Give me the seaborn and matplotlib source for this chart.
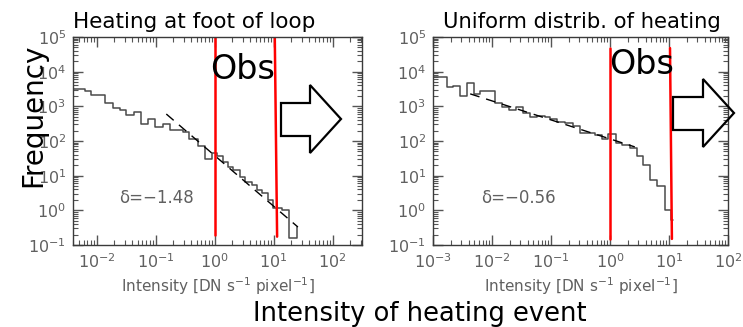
import numpy as np
import pandas as pd
import matplotlib
matplotlib.use("Agg")
import matplotlib.pyplot as plt
from matplotlib.ticker import LogLocator, LogFormatterSciNotation, NullFormatter
from matplotlib.patches import Polygon
import seaborn as sns

# ---------------- data ----------------
# Left panel: heating at foot of loop
left_edges = [0.00398, 0.00635, 0.00803, 0.01387, 0.01897, 0.02494, 0.03148, 0.04305,
              0.05662, 0.0743, 0.09772, 0.1334, 0.1754, 0.2911, 0.3681, 0.5234,
              0.6877, 0.9036, 1.099, 1.388, 1.687, 2.051, 2.696, 3.275,
              4.306, 5.236, 6.357, 8.035, 9.772, 13.87, 18.23, 24.93]
left_counts = [3160, 2750, 2140, 1260, 890, 795, 560, 690,
               310, 435, 255, 310, 210, 180, 115, 72,
               30, 46, 37, 25, 18, 15, 9.3, 6.6,
               5.4, 3.9, 3.2, 2.0, 1.17, 1.02, 0.16]
left_tail = 0.33
left_fit_x = [0.152, 25.9]
left_fit_y = [600, 0.33]
left_delta = "δ=−1.48"
left_obs_x = [[1.0, 1.0], [10.5, 11.5]]
left_obs_y = [[1e5, 0.197], [1e5, 0.174]]

# Right panel: uniform distribution of heating
right_edges = [0.001, 0.001726, 0.002183, 0.00287, 0.00377, 0.004955, 0.006266, 0.01125,
               0.01477, 0.01941, 0.02551, 0.0335, 0.04403, 0.05787, 0.07912, 0.09616,
               0.1264, 0.1726, 0.236, 0.3101, 0.4075, 0.5571, 0.7314, 0.9246,
               1.264, 1.597, 2.183, 2.869, 3.626, 4.766, 6.264, 8.557, 10.81, 11.69]
right_counts = [7030, 3620, 3870, 1995, 4720, 2275, 2780, 1255,
                960, 787, 960, 646, 495, 529, 495, 434,
                355, 332, 272, 171, 171, 150, 115, 160,
                88, 77, 63, 37, 20.5, 7.6, 5.1, 1.03, 0.53]
right_fit_x = [0.00427, 2.63]
right_fit_y = [2290, 67.6]
right_delta = "δ=−0.56"
right_obs_x = [[1.0, 1.0], [10.4, 11.2]]
right_obs_y = [[47900, 0.15], [47900, 0.15]]

titles = ["Heating at foot of loop", "Uniform distrib. of heating"]
x_label_small = "Intensity [DN s$^{-1}$ pixel$^{-1}$]"
y_label_big = "Frequency"
x_label_big = "Intensity of heating event"
obs_label = "Obs"

# ---------------- style ----------------
sns.set_theme(style="ticks")
plt.rcParams["font.family"] = ["DejaVu Sans"]
plt.rcParams["mathtext.default"] = "regular"

W, H = 743, 327
fig = plt.figure(figsize=(W / 100, H / 100), dpi=100)

def px_rect(x0, y0, x1, y1):
    return [x0 / W, 1 - y1 / H, (x1 - x0) / W, (y1 - y0) / H]

ax_l = fig.add_axes(px_rect(73, 37, 362, 245))
ax_r = fig.add_axes(px_rect(433, 37, 728, 245))

spine_c = "#3a3a3a"
tick_c = "#555555"
lab_c = "#606060"
hist_c = "#4a4a4a"

def draw_panel(ax, edges, counts, tail, fit_x, fit_y, obs_x, obs_y, xlim, delta):
    xs = list(edges)
    ys = list(counts) + [counts[-1]]
    if tail is not None:
        xs = xs + [edges[-1]]
        ys = ys + [tail]
    df = pd.DataFrame({"x": xs, "y": ys})
    sns.lineplot(data=df, x="x", y="y", ax=ax, sort=False, estimator=None,
                 drawstyle="steps-post", color=hist_c, lw=1.1)
    dff = pd.DataFrame({"x": fit_x, "y": fit_y})
    sns.lineplot(data=dff, x="x", y="y", ax=ax, sort=False, estimator=None,
                 color="black", lw=1.0, linestyle=(0, (7, 5)))
    for ox, oy in zip(obs_x, obs_y):
        dfo = pd.DataFrame({"x": ox, "y": oy})
        sns.lineplot(data=dfo, x="x", y="y", ax=ax, sort=False, estimator=None,
                     color="#ff0000", lw=1.8)
    ax.set_xscale("log")
    ax.set_yscale("log")
    ax.set_xlim(*xlim)
    ax.set_ylim(0.1, 1e5)
    ax.set_xlabel(x_label_small, color=lab_c, fontsize=11, labelpad=3)
    ax.set_ylabel("")
    for s in ax.spines.values():
        s.set_visible(True)
        s.set_color(spine_c)
        s.set_linewidth(1.0)
    ax.xaxis.set_major_locator(LogLocator(base=10, numticks=20))
    ax.yaxis.set_major_locator(LogLocator(base=10, numticks=20))
    ax.xaxis.set_minor_locator(LogLocator(base=10, subs=np.arange(2, 10), numticks=100))
    ax.yaxis.set_minor_locator(LogLocator(base=10, subs=np.arange(2, 10), numticks=100))
    ax.xaxis.set_major_formatter(LogFormatterSciNotation())
    ax.yaxis.set_major_formatter(LogFormatterSciNotation())
    ax.xaxis.set_minor_formatter(NullFormatter())
    ax.yaxis.set_minor_formatter(NullFormatter())
    ax.tick_params(which="both", direction="in", top=True, right=True,
                   color=tick_c, labelcolor=lab_c, labelsize=11.5)
    ax.tick_params(which="major", length=7, width=1.0, pad=5)
    ax.tick_params(which="minor", length=3.5, width=0.8)
    ax.set_facecolor("white")
    ax.text(0.29, 0.225, delta, transform=ax.transAxes, ha="center", va="center",
            color=lab_c, fontsize=12)

draw_panel(ax_l, left_edges, left_counts, left_tail, left_fit_x, left_fit_y,
           left_obs_x, left_obs_y, (10 ** -2.4, 10 ** 2.5), left_delta)
draw_panel(ax_r, right_edges, right_counts, None, right_fit_x, right_fit_y,
           right_obs_x, right_obs_y, (1e-3, 1e2), right_delta)

# ---------------- annotations ----------------
def fx(px):
    return px / W

def fy(py):
    return 1 - py / H

fig.text(fx(73), fy(28), titles[0], ha="left", va="baseline", fontsize=15.5, color="black")
fig.text(fx(443), fy(28), titles[1], ha="left", va="baseline", fontsize=15.2, color="black")
fig.text(fx(210), fy(79), obs_label, ha="left", va="baseline", fontsize=24, color="black")
fig.text(fx(609), fy(74), obs_label, ha="left", va="baseline", fontsize=24, color="black")
fig.text(fx(33), fy(115), y_label_big, ha="center", va="center", rotation=90,
         fontsize=20, color="black")
fig.text(fx(420), fy(321), x_label_big, ha="center", va="baseline", fontsize=18.5, color="black")

def arrow(pts):
    poly = Polygon([(fx(x), fy(y)) for x, y in pts], closed=True, fill=False,
                   edgecolor="black", lw=1.6, transform=fig.transFigure, zorder=10)
    fig.add_artist(poly)

arrow([(281, 103), (310, 103), (310, 85), (341, 119), (310, 153), (310, 136), (281, 136)])
arrow([(673, 97), (703, 97), (703, 79), (734, 113), (703, 147), (703, 130), (673, 130)])

fig.savefig("out.png", dpi=100, facecolor="white")
